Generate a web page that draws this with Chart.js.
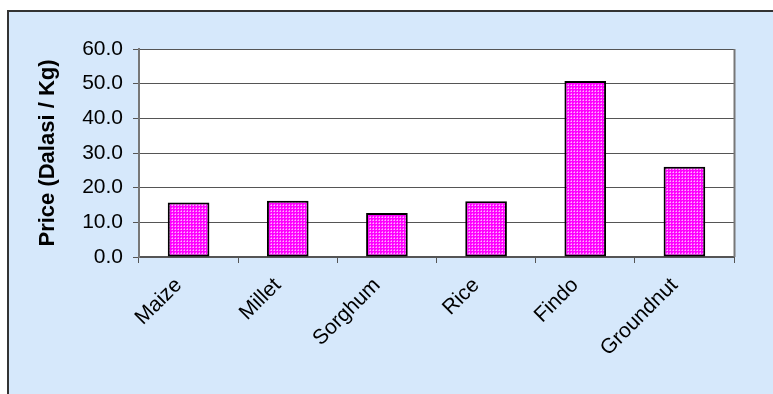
<!DOCTYPE html>
<html>
<head>
<meta charset="utf-8">
<script src="https://cdn.jsdelivr.net/npm/chart.js@4"></script>
<style>
  html, body { margin: 0; padding: 0; background: #fff; }
  #wrap { width: 773px; height: 394px; }
</style>
</head>
<body>
<div id="wrap"><canvas id="myChart" width="773" height="394"></canvas></div>
<script>
const categories = ["Maize", "Millet", "Sorghum", "Rice", "Findo", "Groundnut"];
const prices = [15.7, 16.2, 12.7, 16.1, 50.8, 26.0];
const yTicks = [0, 10, 20, 30, 40, 50, 60];

// magenta dotted fill like the old office pattern
function makePattern() {
  const c = document.createElement("canvas");
  c.width = 3;
  c.height = 3;
  const g = c.getContext("2d");
  g.fillStyle = "#ff00ff";
  g.fillRect(0, 0, 3, 3);
  g.fillStyle = "#ffb4ff";
  g.fillRect(1, 1, 1, 1);
  g.fillStyle = "#ff66ff";
  g.fillRect(0, 1, 1, 1);
  g.fillRect(1, 0, 1, 1);
  return g.createPattern(c, "repeat");
}

const backdrop = {
  id: "backdrop",
  beforeDraw(chart) {
    const ctx = chart.ctx;
    const a = chart.chartArea;
    ctx.save();
    ctx.fillStyle = "#ffffff";
    ctx.fillRect(0, 0, chart.width, chart.height);
    ctx.fillStyle = "#d6e8fb";
    ctx.fillRect(8, 11, chart.width - 8, chart.height - 11);
    ctx.strokeStyle = "#333";
    ctx.lineWidth = 2;
    ctx.beginPath();
    ctx.moveTo(8, chart.height);
    ctx.lineTo(8, 11);
    ctx.lineTo(chart.width, 11);
    ctx.stroke();
    ctx.fillStyle = "#ffffff";
    ctx.fillRect(a.left, a.top, a.right - a.left, a.bottom - a.top);
    ctx.restore();
  },
  afterDraw(chart) {
    const ctx = chart.ctx;
    const a = chart.chartArea;
    ctx.save();
    ctx.strokeStyle = "#777";
    ctx.lineWidth = 2;
    ctx.beginPath();
    ctx.moveTo(a.right + 0.5, a.bottom);
    ctx.lineTo(a.right + 0.5, a.top);
    ctx.stroke();
    ctx.restore();
  }
};

new Chart(document.getElementById("myChart"), {
  type: "bar",
  plugins: [backdrop],
  data: {
    labels: categories,
    datasets: [{
      data: prices,
      backgroundColor: makePattern(),
      borderColor: "#000",
      borderWidth: 2,
      borderSkipped: false,
      barPercentage: 0.42,
      categoryPercentage: 1.0
    }]
  },
  options: {
    responsive: false,
    animation: false,
    layout: { padding: { left: 0, right: 39, top: 49, bottom: 0 } },
    plugins: {
      legend: { display: false },
      tooltip: { enabled: false }
    },
    scales: {
      x: {
        afterFit(scale) { scale.height = 137; },
        grid: {
          offset: true,
          drawOnChartArea: false,
          drawTicks: true,
          tickLength: 6,
          color: "#555"
        },
        border: { color: "#555", width: 2 },
        ticks: {
          color: "#000",
          font: { family: "Liberation Sans, Arial", size: 21 },
          minRotation: 45,
          maxRotation: 45,
          padding: 10,
          labelOffset: -10
        }
      },
      y: {
        min: 0,
        max: 60,
        afterFit(scale) { scale.width = 139; },
        afterBuildTicks(scale) { scale.ticks = yTicks.map(v => ({ value: v })); },
        grid: { color: "#555", tickLength: 6, lineWidth: 1 },
        border: { color: "#777", width: 2 },
        ticks: {
          color: "#000",
          padding: 10,
          font: { family: "Liberation Sans, Arial", size: 21 },
          callback: v => v.toFixed(1)
        },
        title: {
          display: true,
          text: "Price (Dalasi / Kg)",
          color: "#000",
          font: { family: "Liberation Sans, Arial", size: 22, weight: "bold" },
          padding: { top: 35, bottom: 0 }
        }
      }
    }
  }
});
</script>
</body>
</html>
